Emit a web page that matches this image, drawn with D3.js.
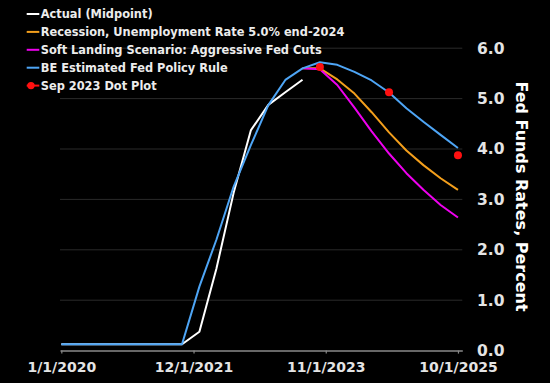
<!DOCTYPE html>
<html>
<head>
<meta charset="utf-8">
<script src="https://cdn.jsdelivr.net/npm/d3@7"></script>
<style>
  html, body { margin: 0; padding: 0; background: #000; }
  svg { display: block; }
  text { font-family: "DejaVu Sans", sans-serif; font-weight: bold; }
</style>
</head>
<body>
<svg id="chart" width="550" height="383"></svg>
<script>
// ---- Data (quarterly) ----
const quarters = ["2020-01-01","2020-04-01","2020-07-01","2020-10-01",
                  "2021-01-01","2021-04-01","2021-07-01","2021-10-01",
                  "2022-01-01","2022-04-01","2022-07-01","2022-10-01",
                  "2023-01-01","2023-04-01","2023-07-01","2023-10-01",
                  "2024-01-01","2024-04-01","2024-07-01","2024-10-01",
                  "2025-01-01","2025-04-01","2025-07-01","2025-10-01"];
// Actual (Midpoint): Q1 2020 .. Q3 2023
const actual = [0.125,0.125,0.125,0.125,0.125,0.125,0.125,0.125,
                0.375,1.625,3.125,4.375,4.875,5.125,5.375];
// Recession scenario: Q3 2023 .. Q4 2025
const recession = [5.60,5.60,5.38,5.10,4.73,4.33,3.97,3.68,3.42,3.19];
// Soft landing scenario: Q3 2023 .. Q4 2025
const softLanding = [5.60,5.58,5.27,4.82,4.35,3.91,3.52,3.19,2.89,2.64];
// BE estimated policy rule: Q1 2020 .. Q4 2025
const policyRule = [0.125,0.125,0.125,0.125,0.125,0.125,0.125,0.125,
                    1.27,2.20,3.25,4.08,4.87,5.37,5.60,5.72,
                    5.67,5.53,5.36,5.12,4.81,4.54,4.28,4.02];
// Sep 2023 dot plot (year-end medians)
const dotDates = ["2023-10-01","2024-10-01","2025-10-01"];
const dotValues = [5.625,5.125,3.875];

const seriesNames = ["Actual (Midpoint)",
                     "Recession, Unemployment Rate 5.0% end-2024",
                     "Soft Landing Scenario: Aggressive Fed Cuts",
                     "BE Estimated Fed Policy Rule",
                     "Sep 2023 Dot Plot"];
const seriesColors = ["#ffffff","#f39f1c","#ee00ee","#4ea5f5","#ff1010"];

const xTickLabels = ["1/1/2020","12/1/2021","11/1/2023","10/1/2025"];
const yTickValues = [0,1,2,3,4,5,6];
const yTitle = "Fed Funds Rates, Percent";

// ---- Scales ----
const parse = d3.utcParse("%Y-%m-%d");
const parseTick = d3.utcParse("%m/%d/%Y");
const x = d3.scaleUtc()
  .domain([parse("2019-12-25"), parse("2025-10-24")])
  .range([60, 462.3]);
const y = d3.scaleLinear().domain([0, 6]).range([350.6, 48.2]);

const svg = d3.select("#chart");
svg.append("rect").attr("width", 550).attr("height", 383).attr("fill", "#000");

// gridlines
svg.append("g").selectAll("line")
  .data(yTickValues.filter(v => v > 0))
  .join("line")
  .attr("x1", 60).attr("x2", 462.3)
  .attr("y1", d => y(d)).attr("y2", d => y(d))
  .attr("stroke", "#2a2a2a").attr("stroke-width", 1);

// x axis
const xAxis = d3.axisBottom(x)
  .tickValues(xTickLabels.map(parseTick))
  .tickFormat((d, i) => xTickLabels[i])
  .tickSize(3).tickSizeOuter(0);
const gx = svg.append("g").attr("transform", `translate(0,${y(0)})`).call(xAxis);
gx.select(".domain").attr("stroke", "#8a8a8a").attr("stroke-width", 1.5);
gx.selectAll(".tick line").attr("stroke", "#8a8a8a").attr("stroke-width", 1.2);
gx.selectAll(".tick text")
  .attr("fill", "#e4e4e4")
  .attr("font-size", 14)
  .attr("font-family", "'DejaVu Sans', sans-serif")
  .attr("font-weight", "bold")
  .attr("dy", null)
  .attr("y", 21.9);

// y axis (labels only, right side)
const yAxis = d3.axisRight(y)
  .tickValues(yTickValues)
  .tickFormat(d3.format(".1f"))
  .tickSize(0);
const gy = svg.append("g").attr("transform", "translate(477,0)").call(yAxis);
gy.select(".domain").remove();
gy.selectAll(".tick text")
  .attr("x", 0)
  .attr("fill", "#e4e4e4")
  .attr("font-size", 15.5)
  .attr("font-family", "'DejaVu Sans', sans-serif")
  .attr("font-weight", "bold");

// y title
svg.append("text")
  .attr("transform", "translate(521.5,196.5) rotate(90)")
  .attr("text-anchor", "middle")
  .attr("dominant-baseline", "central")
  .attr("fill", "#ffffff")
  .attr("font-size", 16)
  .text(yTitle);

// lines
const line = d3.line().x(d => x(d[0])).y(d => y(d[1]));
const toPts = (vals, startIdx) => vals.map((v, i) => [parse(quarters[startIdx + i]), v]);
const lineData = [
  toPts(actual, 0),
  toPts(recession, 14),
  toPts(softLanding, 14),
  toPts(policyRule, 0)
];
svg.append("g").selectAll("path")
  .data(lineData)
  .join("path")
  .attr("d", line)
  .attr("fill", "none")
  .attr("stroke", (d, i) => seriesColors[i])
  .attr("stroke-width", 2)
  .attr("stroke-linejoin", "round");

// dot plot
svg.append("g").selectAll("circle")
  .data(dotDates.map((d, i) => [parse(d), dotValues[i]]))
  .join("circle")
  .attr("cx", d => x(d[0]))
  .attr("cy", d => y(d[1]))
  .attr("r", 4)
  .attr("fill", seriesColors[4]);

// legend
const lg = svg.append("g").attr("transform", "translate(26.7,14)");
const rows = lg.selectAll("g").data(seriesNames).join("g")
  .attr("transform", (d, i) => `translate(0,${i * 17.9})`);
rows.append("line")
  .attr("x1", 0).attr("x2", 12.6).attr("y1", 0).attr("y2", 0)
  .attr("stroke", (d, i) => seriesColors[i]).attr("stroke-width", 2);
rows.filter((d, i) => i === 4).append("circle")
  .attr("cx", 4.3).attr("cy", 0).attr("r", 3.7).attr("fill", seriesColors[4]);
rows.append("text")
  .attr("x", 14).attr("y", 0)
  .attr("dominant-baseline", "central")
  .attr("fill", "#ececec")
  .attr("font-size", 11.4)
  .text(d => d);
</script>
</body>
</html>
